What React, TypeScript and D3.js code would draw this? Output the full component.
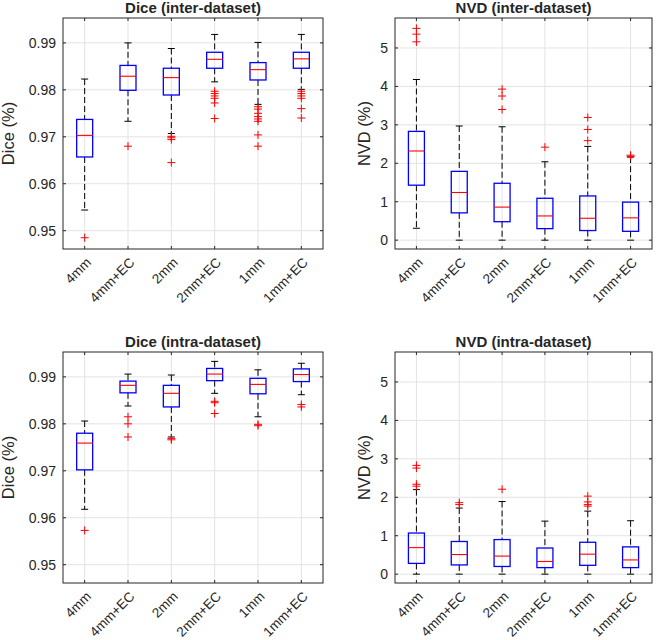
import * as d3 from "d3";

const categories = ["4mm", "4mm+EC", "2mm", "2mm+EC", "1mm", "1mm+EC"];

// [lower whisker, q1, median, q3, upper whisker]
const diceInterStats = [
  [0.9544, 0.9657, 0.9703, 0.9737, 0.9823],
  [0.9733, 0.9799, 0.9829, 0.9852, 0.99],
  [0.9707, 0.9789, 0.9826, 0.9846, 0.9888],
  [0.9817, 0.9846, 0.9865, 0.988, 0.9918],
  [0.9769, 0.9821, 0.9843, 0.9858, 0.9901],
  [0.9801, 0.9846, 0.9866, 0.988, 0.9918],
];
const diceInterOutliers = [
  [0.9485],
  [0.968],
  [0.9701, 0.9698, 0.9694, 0.9645],
  [0.9797, 0.9792, 0.9787, 0.9782, 0.9772, 0.9739],
  [0.9764, 0.9759, 0.975, 0.9743, 0.9738, 0.9733, 0.9704, 0.968],
  [0.9797, 0.9792, 0.9787, 0.9782, 0.976, 0.974],
];

const nvdInterStats = [
  [0.31, 1.43, 2.32, 2.83, 4.18],
  [0.0, 0.71, 1.24, 1.79, 2.97],
  [0.0, 0.48, 0.86, 1.48, 2.95],
  [0.0, 0.3, 0.63, 1.09, 2.04],
  [0.0, 0.25, 0.57, 1.15, 2.44],
  [0.0, 0.23, 0.58, 0.99, 2.16],
];
const nvdInterOutliers = [
  [5.51, 5.36, 5.16],
  [],
  [3.93, 3.75, 3.4],
  [2.42],
  [3.19, 2.88, 2.59],
  [2.21, 2.18],
];

const diceIntraStats = [
  [0.9618, 0.9702, 0.9759, 0.978, 0.9806],
  [0.9838, 0.9866, 0.9882, 0.9891, 0.9906],
  [0.9772, 0.9836, 0.9865, 0.9882, 0.9904],
  [0.9865, 0.9892, 0.9906, 0.9918, 0.9933],
  [0.9815, 0.9864, 0.9884, 0.9897, 0.9915],
  [0.9862, 0.989, 0.9905, 0.9917, 0.9929],
];
const diceIntraOutliers = [
  [0.9573],
  [0.9815, 0.98, 0.9772],
  [0.9769, 0.9766],
  [0.9848, 0.9845, 0.9822],
  [0.9799, 0.9796],
  [0.9841, 0.9836],
];

const nvdIntraStats = [
  [0.0, 0.28, 0.69, 1.07, 2.2],
  [0.0, 0.24, 0.51, 0.85, 1.72],
  [0.0, 0.2, 0.47, 0.9, 1.89],
  [0.0, 0.17, 0.33, 0.68, 1.38],
  [0.0, 0.23, 0.52, 0.83, 1.64],
  [0.0, 0.17, 0.37, 0.71, 1.39],
];
const nvdIntraOutliers = [
  [2.83, 2.76, 2.34, 2.29],
  [1.86, 1.81],
  [2.21],
  [],
  [2.03, 1.88, 1.81, 1.77],
  [],
];

const diceTicks = [0.95, 0.96, 0.97, 0.98, 0.99];
const nvdTicks = [0, 1, 2, 3, 4, 5];

const FONT = "'Liberation Sans', Arial, Helvetica, sans-serif";
const INK = "#262626";
const GRID = "#e3e3e3";

type PanelProps = {
  title: string;
  ylabel: string;
  stats: number[][];
  outliers: number[][];
  domain: [number, number];
  ticks: number[];
  fmt: (v: number) => string;
  x0: number;
  x1: number;
  y0: number;
  y1: number;
  labelX: number;
};

const Panel = ({ title, ylabel, stats, outliers, domain, ticks, fmt, x0, x1, y0, y1, labelX }: PanelProps) => {
  const x = d3.scalePoint<string>().domain(categories).range([x0, x1]).padding(0.5);
  const y = d3.scaleLinear().domain(domain).range([y1, y0]);
  const boxHalf = 8;
  const capHalf = 3.5;
  const tickLen = 3;

  return (
    <g>
      {/* grid */}
      {categories.map((c) => (
        <line key={"vg" + c} x1={x(c)} x2={x(c)} y1={y0} y2={y1} stroke={GRID} strokeWidth={1} />
      ))}
      {ticks.map((t) => (
        <line key={"hg" + t} x1={x0} x2={x1} y1={y(t)} y2={y(t)} stroke={GRID} strokeWidth={1} />
      ))}

      {/* boxes */}
      {categories.map((c, i) => {
        const [lo, q1, med, q3, hi] = stats[i];
        const cx = x(c) as number;
        return (
          <g key={"b" + c}>
            <line x1={cx} x2={cx} y1={y(hi)} y2={y(q3)} stroke="#000" strokeWidth={1} strokeDasharray="6,3" />
            <line x1={cx} x2={cx} y1={y(q1)} y2={y(lo)} stroke="#000" strokeWidth={1} strokeDasharray="6,3" />
            <line x1={cx - capHalf} x2={cx + capHalf} y1={y(hi)} y2={y(hi)} stroke="#000" strokeWidth={1} />
            <line x1={cx - capHalf} x2={cx + capHalf} y1={y(lo)} y2={y(lo)} stroke="#000" strokeWidth={1} />
            <rect x={cx - boxHalf} y={y(q3)} width={boxHalf * 2} height={y(q1) - y(q3)} fill="none" stroke="#0000ff" strokeWidth={1.3} />
            <line x1={cx - boxHalf} x2={cx + boxHalf} y1={y(med)} y2={y(med)} stroke="#ff0000" strokeWidth={1.1} />
            {outliers[i].map((o, j) => (
              <path
                key={j}
                d={`M${cx - 4},${y(o)}H${cx + 4}M${cx},${y(o) - 4}V${y(o) + 4}`}
                stroke="#ff0000"
                strokeWidth={1}
                fill="none"
              />
            ))}
          </g>
        );
      })}

      {/* axes frame and ticks */}
      <rect x={x0} y={y0} width={x1 - x0} height={y1 - y0} fill="none" stroke={INK} strokeWidth={1} />
      {ticks.map((t) => (
        <g key={"yt" + t}>
          <line x1={x0} x2={x0 + tickLen} y1={y(t)} y2={y(t)} stroke={INK} />
          <line x1={x1} x2={x1 - tickLen} y1={y(t)} y2={y(t)} stroke={INK} />
          <text x={x0 - 7} y={y(t)} dy="0.35em" textAnchor="end" fontSize={14} fill={INK} fontFamily={FONT}>
            {fmt(t)}
          </text>
        </g>
      ))}
      {categories.map((c) => {
        const cx = x(c) as number;
        return (
          <g key={"xt" + c}>
            <line x1={cx} x2={cx} y1={y1} y2={y1 - tickLen} stroke={INK} />
            <line x1={cx} x2={cx} y1={y0} y2={y0 + tickLen} stroke={INK} />
            <text
              transform={`translate(${cx + 4},${y1 + 11}) rotate(-45)`}
              dy="0.35em"
              textAnchor="end"
              fontSize={13.5}
              fill={INK}
              fontFamily={FONT}
            >
              {c}
            </text>
          </g>
        );
      })}

      <text x={(x0 + x1) / 2} y={y0 - 5} textAnchor="middle" fontSize={15} fontWeight="bold" fill={INK} fontFamily={FONT}>
        {title}
      </text>
      <text
        transform={`translate(${labelX},${(y0 + y1) / 2}) rotate(-90)`}
        textAnchor="middle"
        fontSize={16.5}
        fill={INK}
        fontFamily={FONT}
      >
        {ylabel}
      </text>
    </g>
  );
};

export default function App() {
  const fDice = d3.format(".2f");
  const fNvd = d3.format("d");
  const diceDomain: [number, number] = [0.9461, 0.9953];
  const nvdDomain: [number, number] = [-0.23, 5.78];
  return (
    <svg width={656} height={640} style={{ position: "absolute", left: 0, top: 0, background: "#fff" }}>
      <rect width={656} height={640} fill="#fff" />
      <Panel title="Dice (inter-dataset)" ylabel="Dice (%)" stats={diceInterStats} outliers={diceInterOutliers}
        domain={diceDomain} ticks={diceTicks} fmt={fDice} x0={63} x1={323} y0={18} y1={249} labelX={14} />
      <Panel title="NVD (inter-dataset)" ylabel="NVD (%)" stats={nvdInterStats} outliers={nvdInterOutliers}
        domain={nvdDomain} ticks={nvdTicks} fmt={fNvd} x0={395} x1={652} y0={18} y1={249} labelX={370} />
      <Panel title="Dice (intra-dataset)" ylabel="Dice (%)" stats={diceIntraStats} outliers={diceIntraOutliers}
        domain={diceDomain} ticks={diceTicks} fmt={fDice} x0={63} x1={323} y0={352} y1={583} labelX={14} />
      <Panel title="NVD (intra-dataset)" ylabel="NVD (%)" stats={nvdIntraStats} outliers={nvdIntraOutliers}
        domain={nvdDomain} ticks={nvdTicks} fmt={fNvd} x0={395} x1={652} y0={352} y1={583} labelX={370} />
    </svg>
  );
}
